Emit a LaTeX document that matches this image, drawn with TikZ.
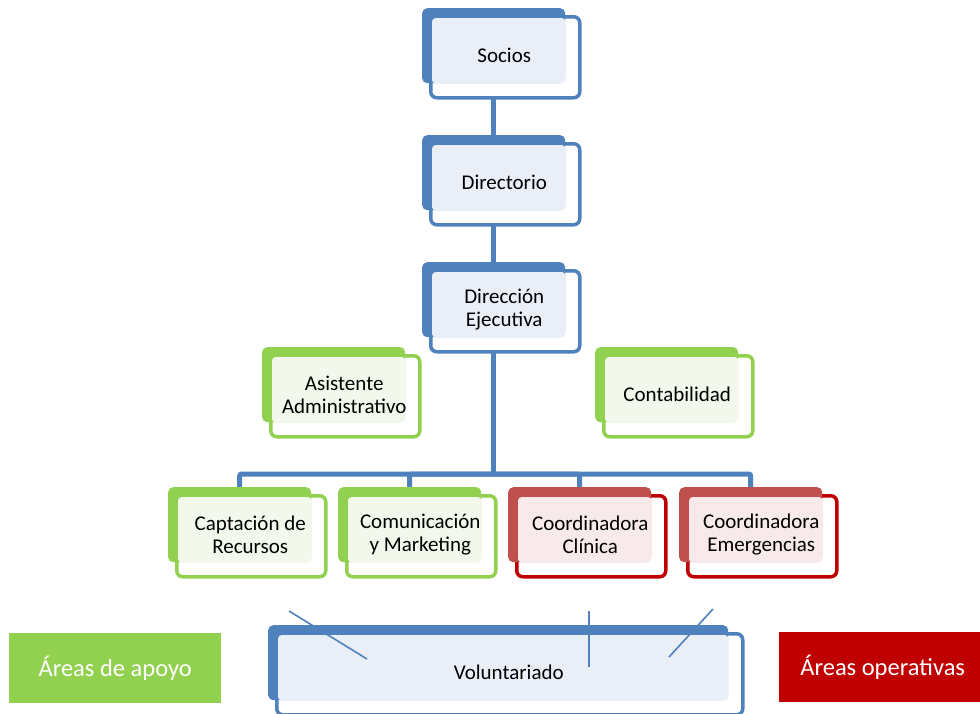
\documentclass[tikz,border=0pt]{standalone}
\usepackage{fontspec}
\setmainfont{Carlito}
\usetikzlibrary{backgrounds}
\definecolor{blueback}{HTML}{4F81BD}
\definecolor{blueborder}{HTML}{4F81BD}
\definecolor{bluelight}{HTML}{EAEFF7}
\definecolor{greenback}{HTML}{92D050}
\definecolor{greenborder}{HTML}{92D050}
\definecolor{greenlight}{HTML}{F2F8EC}
\definecolor{redback}{HTML}{C0504D}
\definecolor{redborder}{HTML}{C00000}
\definecolor{redlight}{HTML}{F8EAEA}
\definecolor{legred}{HTML}{C00000}
\definecolor{leggreen}{HTML}{92D050}
\tikzset{
  frame/.style={draw, line width=3.5pt, fill=white, rounded corners=6pt, inner sep=0pt, anchor=north west},
  backbox/.style={rounded corners=5pt, inner sep=0pt, anchor=north west},
  lightbox/.style={rounded corners=3pt, inner sep=0pt, anchor=north west},
  boxtext/.style={align=center, font=\fontsize{21}{23.5}\selectfont, inner sep=0pt},
  conn/.style={draw=blueback, line width=5pt},
  thinline/.style={draw=blueback, line width=1.6pt},
  legend/.style={inner sep=0pt, anchor=north west},
  legtext/.style={text=white, font=\fontsize{24.5}{28}\selectfont, inner sep=0pt}
}
\newcommand\obox[7]{%
  \node[frame, draw=#6border, minimum width=#4+6, minimum height=#5+6] (#1-f) at (#2+7,#3+7) {};
  \node[backbox, fill=#6back, minimum width=#4, minimum height=#5] (#1-b) at (#2,#3) {};
  \node[lightbox, fill=#6light, minimum width=#4-10, minimum height=#5-10] (#1-l) at (#2+10,#3+10) {};
  \node[boxtext] (#1) at ([xshift=-1pt,yshift=1.5pt]#1-f.center) {#7};
}
\begin{document}
\begin{tikzpicture}[x=1pt,y=-1pt]
\useasboundingbox (0,0) rectangle (980,713);
\obox{socios}{422}{8}{143}{75}{blue}{Socios}
\obox{dir}{422}{135}{143}{75}{blue}{Directorio}
\obox{dirE}{422}{262}{143}{75}{blue}{Dirección\\Ejecutiva}
\obox{asis}{262}{347}{143}{75}{green}{Asistente\\Administrativo}
\obox{cont}{595}{347}{143}{75}{green}{Contabilidad}
\obox{cap}{168}{487}{143}{75}{green}{Captación de\\Recursos}
\obox{com}{338}{487}{143}{75}{green}{Comunicación\\y Marketing}
\obox{cli}{508}{487}{143}{75}{red}{Coordinadora\\Clínica}
\obox{eme}{679}{487}{143}{75}{red}{Coordinadora\\Emergencias}
\obox{vol}{268}{625}{460}{75}{blue}{Voluntariado}
\coordinate (bus) at (dirE-b.south |- 0,474);
\begin{scope}[on background layer]
  \draw[conn] (socios-b.south) -- (dir-b.north);
  \draw[conn] (dir-b.south) -- (dirE-b.north);
  \draw[conn] (dirE-b.south) -- (bus);
  \draw[conn, rounded corners=2pt] (cap-b.north) |- (bus);
  \draw[conn, rounded corners=2pt] (com-b.north) |- (bus);
  \draw[conn, rounded corners=2pt] (cli-b.north) |- (bus);
  \draw[conn, rounded corners=2pt] (eme-b.north) |- (bus);
\end{scope}
\coordinate (t1a) at (289,611);
\coordinate (t1b) at (367,659);
\coordinate (t2a) at (589,611);
\coordinate (t2b) at (589,667);
\coordinate (t3a) at (713,609);
\coordinate (t3b) at (669,657);
\draw[thinline] (t1a) -- (t1b);
\draw[thinline] (t2a) -- (t2b);
\draw[thinline] (t3a) -- (t3b);
\node[legend, fill=leggreen, minimum width=212, minimum height=70] (lapoyo) at (9,633) {};
\node[legtext] (lapoyoT) at (lapoyo.center) {Áreas de apoyo};
\node[legend, fill=legred, minimum width=201, minimum height=70] (loper) at (779,632) {};
\node[legtext] (loperT) at ([xshift=3pt]loper.center) {Áreas operativas};
\end{tikzpicture}
\end{document}
